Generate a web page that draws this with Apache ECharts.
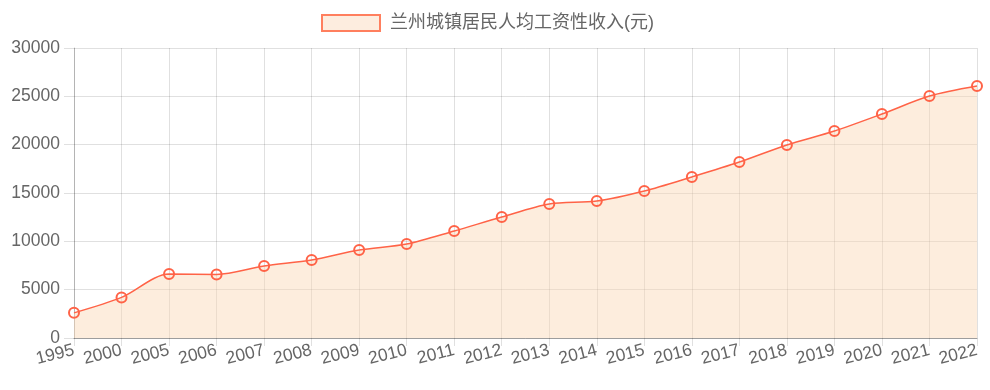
<!DOCTYPE html>
<html><head><meta charset="utf-8">
<script src="https://cdn.jsdelivr.net/npm/echarts@6/dist/echarts.min.js"></script>
<style>html,body{margin:0;padding:0;background:#fff}#c{width:990px;height:390px}</style>
</head><body><div id="c"></div>
<script>
const categories = ['1995','2000','2005','2006','2007','2008','2009','2010','2011','2012','2013','2014','2015','2016','2017','2018','2019','2020','2021','2022'];
const values = [2600,4200,6620,6580,7450,8070,9100,9720,11070,12520,13860,14170,15210,16660,18200,19970,21410,23170,25030,26070];
const seriesName = '兰州城镇居民人均工资性收入(元)';
const yTicks = {min:0, max:30000, interval:5000};

const chart = echarts.init(document.getElementById('c'));
chart.setOption({
  animation:false,
  textStyle:{fontFamily:'"Liberation Sans", Arial, "Noto Sans CJK SC", sans-serif'},
  legend:{top:14, left:321, itemWidth:58, itemHeight:16, itemGap:9, padding:0,
    textStyle:{fontSize:18, color:'#666', padding:[0,0,0,5]},
    data:[{name:seriesName, icon:'rect', itemStyle:{color:'#fdeddf', borderColor:'#ff7f5e', borderWidth:2}}]},
  grid:{left:74, right:13, top:48, bottom:52},
  xAxis:{type:'category', data:categories, boundaryGap:false,
    axisLine:{lineStyle:{color:'rgba(0,0,0,0.3)'}},
    axisTick:{show:true, length:8, lineStyle:{color:'rgba(0,0,0,0.12)'}},
    splitLine:{show:true, lineStyle:{color:'rgba(0,0,0,0.12)'}},
    axisLabel:{rotate:14, fontSize:17.5, color:'#666', margin:12, interval:0}},
  yAxis:{type:'value', min:yTicks.min, max:yTicks.max, interval:yTicks.interval,
    axisLine:{show:true, lineStyle:{color:'rgba(0,0,0,0.2)'}},
    axisTick:{show:true, length:10, lineStyle:{color:'rgba(0,0,0,0.12)'}},
    splitLine:{show:true, lineStyle:{color:'rgba(0,0,0,0.12)'}},
    axisLabel:{fontSize:17.5, color:'#666', margin:14, formatter:function(v){return String(v);}}},
  series:[{name:seriesName, type:'line', data:values, smooth:0.3,
    symbol:'circle', symbolSize:10,
    lineStyle:{color:'#ff6347', width:1.5},
    itemStyle:{color:'rgba(255,99,71,0)', borderColor:'#ff6347', borderWidth:2},
    areaStyle:{color:'rgba(250,215,180,0.45)', opacity:1}}]
});
</script></body></html>
